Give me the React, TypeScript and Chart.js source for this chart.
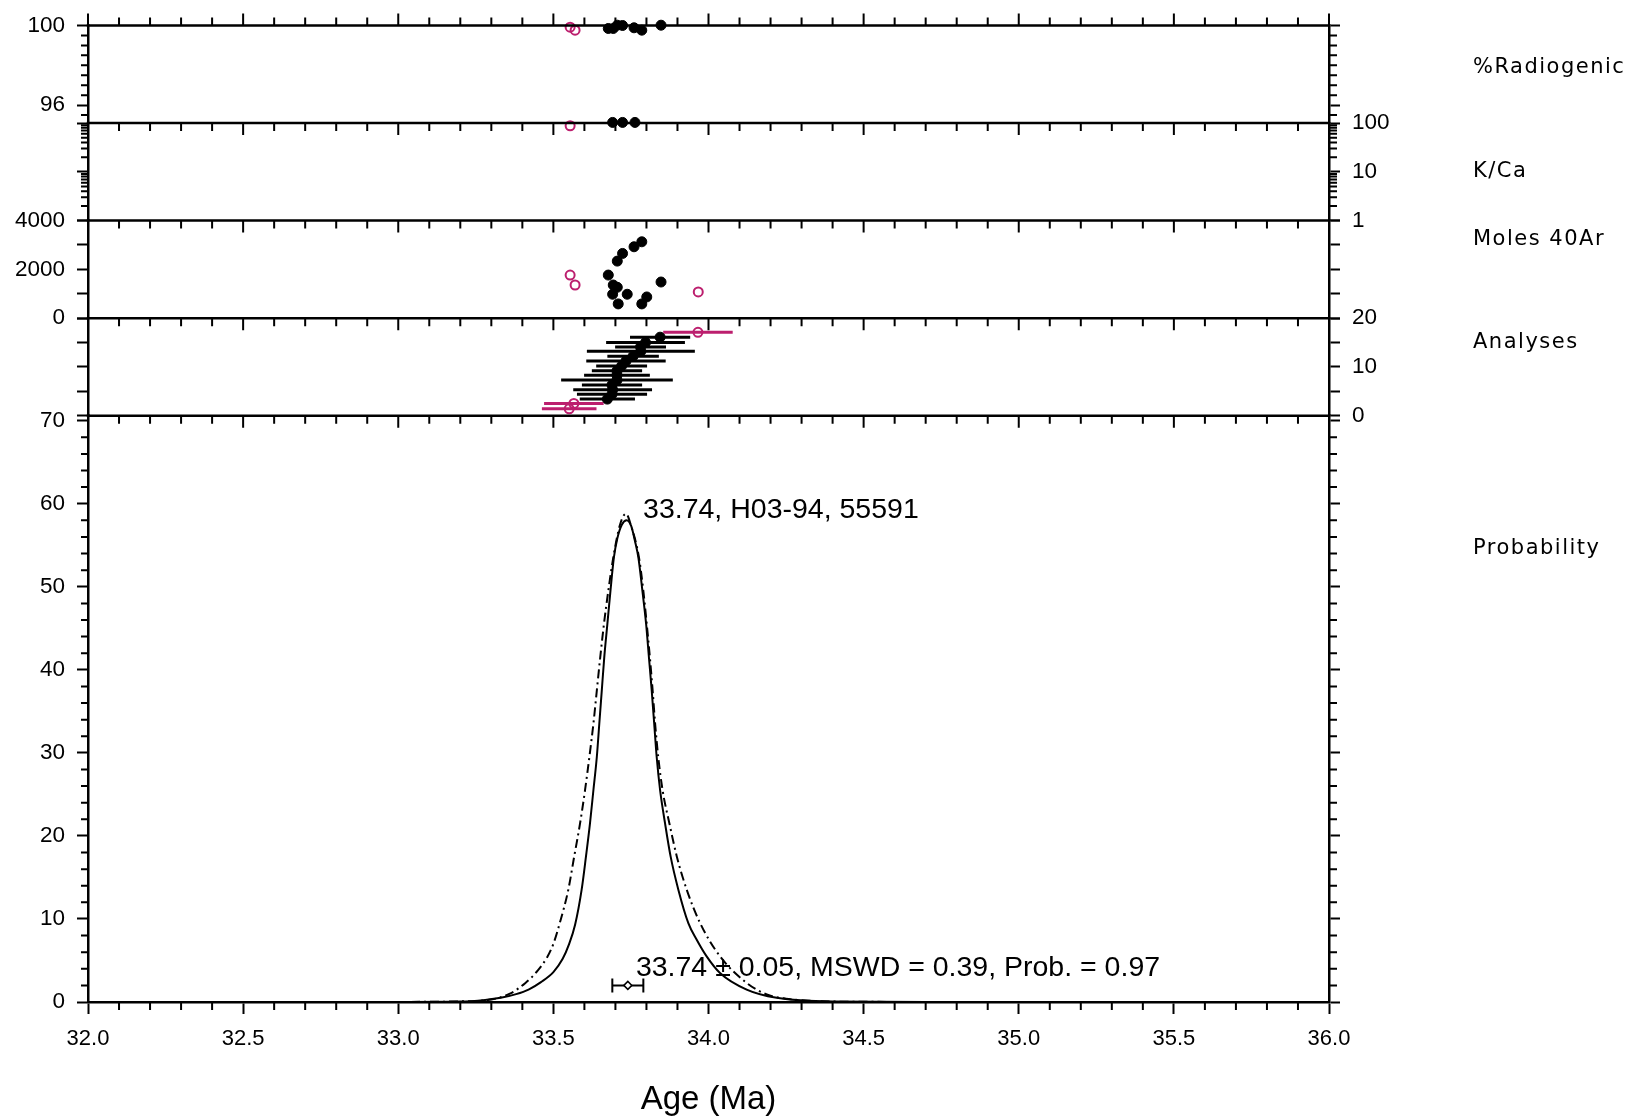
import React, { useEffect, useRef } from 'react';
import { Chart, registerables } from 'chart.js';

Chart.register(...registerables);

// ---------------- Data ----------------
const X_MIN = 32.0;
const X_MAX = 36.0;
const X_TICK_LABELS = ['32.0', '32.5', '33.0', '33.5', '34.0', '34.5', '35.0', '35.5', '36.0'];
const X_MINOR_STEP = 0.1;

// %Radiogenic
const RAD_AGES = [33.677, 33.693, 33.706, 33.723, 33.760, 33.785, 33.847];
const RAD_VALUES = [99.85, 99.85, 100.015, 100.0, 99.885, 99.765, 100.015];
const RAD_REJ_AGES = [33.554, 33.570];
const RAD_REJ_VALUES = [99.915, 99.765];

// K/Ca
const KCA_AGES = [33.691, 33.723, 33.763];
const KCA_VALUES = [103, 103, 103];
const KCA_REJ_AGES = [33.554];
const KCA_REJ_VALUES = [88];

// Moles 40Ar
const MOL_AGES = [33.785, 33.760, 33.723, 33.706, 33.677, 33.693, 33.706, 33.691, 33.738, 33.709, 33.801, 33.785, 33.847];
const MOL_VALUES = [3131, 2927, 2653, 2339, 1767, 1359, 1265, 980, 980, 584, 869, 584, 1482];
const MOL_REJ_AGES = [33.554, 33.570, 33.967];
const MOL_REJ_VALUES = [1767, 1359, 1073];

// Analyses (ranked ages with 2-sigma errors)
const AN_AGES = [33.674, 33.689, 33.691, 33.689, 33.705, 33.705, 33.705, 33.720, 33.734, 33.757, 33.782, 33.781, 33.797, 33.844];
const AN_ERRS = [0.089, 0.113, 0.127, 0.097, 0.180, 0.106, 0.081, 0.082, 0.128, 0.083, 0.174, 0.082, 0.127, 0.097];
const AN_RANKS = [3.4, 4.4, 5.3, 6.3, 7.3, 8.3, 9.2, 10.2, 11.2, 12.2, 13.2, 14.1, 15.0, 16.1];
const AN_REJ_AGES = [33.551, 33.566, 33.966];
const AN_REJ_ERRS = [0.088, 0.096, 0.112];
const AN_REJ_RANKS = [1.4, 2.5, 17.1];

// Probability curves
const PROB_AGES = [32.0, 32.8, 33.0, 33.2, 33.28, 33.33, 33.38, 33.42, 33.46, 33.50, 33.53, 33.55, 33.57, 33.591, 33.605, 33.618, 33.629, 33.640, 33.648, 33.656, 33.664, 33.674, 33.684, 33.695, 33.706, 33.721, 33.736, 33.751, 33.763, 33.774, 33.787, 33.799, 33.808, 33.817, 33.825, 33.833, 33.844, 33.860, 33.878, 33.903, 33.935, 33.962, 33.994, 34.037, 34.123, 34.220, 34.400, 34.7, 35.0, 36.0];
const PROB_VALUES = [0, 0, 0.01, 0.05, 0.25, 0.5, 0.95, 1.5, 2.4, 3.6, 5.2, 6.9, 9.3, 13.5, 17.5, 21.5, 25.5, 29.5, 33.5, 37.5, 41.5, 45.5, 49.5, 53.5, 55.8, 57.5, 58.0, 57.3, 55.5, 53.5, 49.5, 45.5, 41.5, 37.5, 33.5, 29.5, 25.5, 21.5, 17.5, 13.5, 9.5, 7.5, 5.5, 3.5, 1.5, 0.5, 0.05, 0.01, 0, 0];
const PROB_ALL_AGES = [32.0, 32.8, 33.0, 33.2, 33.30, 33.36, 33.41, 33.45, 33.48, 33.50, 33.519, 33.548, 33.567, 33.586, 33.602, 33.616, 33.629, 33.640, 33.651, 33.663, 33.677, 33.693, 33.715, 33.734, 33.750, 33.776, 33.790, 33.801, 33.811, 33.820, 33.828, 33.838, 33.852, 33.874, 33.898, 33.930, 33.973, 34.037, 34.123, 34.188, 34.250, 34.350, 34.500, 35.0, 36.0];
const PROB_ALL_VALUES = [0, 0, 0.01, 0.08, 0.3, 1.0, 2.3, 3.8, 5.4, 7.0, 9.3, 13.5, 17.5, 21.5, 25.5, 29.5, 33.5, 37.5, 41.5, 45.5, 49.5, 53.5, 57.5, 58.8, 57.4, 53.5, 49.5, 45.5, 41.5, 37.5, 33.5, 29.5, 25.5, 21.5, 17.5, 13.5, 9.5, 5.5, 2.3, 0.9, 0.4, 0.12, 0.02, 0, 0];

// Weighted mean
const MEAN_AGE = 33.74;
const MEAN_ERR = 0.05;
const MEAN_Y = 2.0;

// Annotations (probability panel, data units)
const ANNOT_TEXTS = ['33.74, H03-94, 55591', '33.74 \u00B1 0.05, MSWD = 0.39, Prob. = 0.97'];
const ANNOT_X = [33.789, 33.766];
const ANNOT_Y = [58.25, 3.12];

// Panel labels
const PANEL_LABELS = ['%Radiogenic', 'K/Ca', 'Moles 40Ar', 'Analyses', 'Probability'];
const PANEL_LABEL_AXES = ['yRad', 'yKca', 'yMol', 'yAn', 'yProb'];
const PANEL_LABEL_VALUES = [97.63, 7.8, 2990, 13.9, 54.0];

// Axis ticks
const RAD_TICKS = [96, 100];
const KCA_TICKS = [1, 10, 100];
const MOL_TICKS = [0, 1000, 2000, 3000, 4000];
const MOL_LABELS = [0, 2000, 4000];
const AN_TICKS = [0, 5, 10, 15, 20];
const AN_LABELS = [0, 10, 20];
const PROB_TICKS = [0, 10, 20, 30, 40, 50, 60, 70];

const RAD_MINOR = [95.5, 96.5, 97, 97.5, 98, 98.5, 99, 99.5];
const KCA_MINOR = [2, 3, 4, 5, 6, 7, 8, 9, 20, 30, 40, 50, 60, 70, 80, 90];
const PROB_MINOR = [2, 4, 6, 8, 12, 14, 16, 18, 22, 24, 26, 28, 32, 34, 36, 38, 42, 44, 46, 48, 52, 54, 56, 58, 62, 64, 66, 68];

// ---------------- Styling ----------------
const FONT = "'Liberation Sans', Arial, Helvetica, sans-serif";
const LABEL_FONT = "'DejaVu Sans', Verdana, sans-serif";
const MAGENTA = '#BC1F6E';
const PANEL_AXES = ['yRad', 'yKca', 'yMol', 'yAn', 'yProb'];

const pts = (xs: number[], ys: number[]) => xs.map((x, i) => ({ x, y: ys[i] }));

function panelAxis(position: string, type: string, min: number, max: number, tickVals: number[], labelVals: number[], weight: number, stackWeight: number) {
  return {
    type,
    position,
    min,
    max,
    weight,
    stack: position === 'left' ? 'L' : 'R',
    stackWeight,
    afterFit: (s: any) => { s.width = position === 'left' ? 88 : 305; },
    afterBuildTicks: (s: any) => { s.ticks = tickVals.map((v) => ({ value: v })); },
    ticks: {
      font: { family: FONT, size: 22.5 },
      color: '#000',
      padding: 12,
      autoSkip: false,
      callback: (v: any) => (labelVals.includes(Number(v)) ? String(Number(v)) : ''),
    },
    grid: { drawOnChartArea: false, drawTicks: true, tickLength: 11, tickWidth: 2, tickColor: '#000' },
    border: { display: true, color: '#000', width: 2.5 },
  };
}

const errorBarPlugin = {
  id: 'errorBars',
  beforeDatasetsDraw(chart: any) {
    const { ctx, scales } = chart;
    const xs = scales.x;
    chart.data.datasets.forEach((ds: any, di: number) => {
      if (!ds.xErr) return;
      const meta = chart.getDatasetMeta(di);
      ctx.save();
      ctx.strokeStyle = ds.errColor;
      ctx.lineWidth = ds.errWidth;
      ctx.beginPath();
      ds.data.forEach((d: any, i: number) => {
        const el = meta.data[i];
        if (!el) return;
        const y = el.y;
        const x1 = xs.getPixelForValue(d.x - ds.xErr[i]);
        const x2 = xs.getPixelForValue(d.x + ds.xErr[i]);
        ctx.moveTo(x1, y);
        ctx.lineTo(x2, y);
        if (ds.errCap) {
          ctx.moveTo(x1, y - ds.errCap);
          ctx.lineTo(x1, y + ds.errCap);
          ctx.moveTo(x2, y - ds.errCap);
          ctx.lineTo(x2, y + ds.errCap);
        }
      });
      ctx.stroke();
      ctx.restore();
    });
  },
};

const frameTickPlugin = {
  id: 'frameTicks',
  afterDraw(chart: any) {
    const { ctx, chartArea: a, scales } = chart;
    const xs = scales.x;
    const tops = PANEL_AXES.map((id) => scales[id].top);
    ctx.save();
    ctx.strokeStyle = '#000';
    ctx.lineWidth = 2.5;
    ctx.beginPath();
    tops.forEach((y: number) => {
      ctx.moveTo(a.left - 1.25, y);
      ctx.lineTo(a.right + 1.25, y);
    });
    ctx.stroke();

    ctx.lineWidth = 2;
    ctx.beginPath();
    const n = Math.round((X_MAX - X_MIN) / X_MINOR_STEP);
    for (let i = 0; i <= n; i++) {
      const px = xs.getPixelForValue(X_MIN + i * X_MINOR_STEP);
      const major = i % 5 === 0;
      const len = major ? 12 : 8;
      tops.forEach((y: number, k: number) => {
        ctx.moveTo(px, y);
        ctx.lineTo(px, k === 0 ? y - len : y + len);
      });
      if (!major) {
        ctx.moveTo(px, a.bottom);
        ctx.lineTo(px, a.bottom + len);
      }
    }
    const minor: [string, number[]][] = [['yRad', RAD_MINOR], ['yKca', KCA_MINOR], ['yProb', PROB_MINOR]];
    minor.forEach(([id, vals]) => {
      const s = scales[id];
      vals.forEach((v) => {
        const py = s.getPixelForValue(v);
        ctx.moveTo(a.left, py);
        ctx.lineTo(a.left - 7, py);
        ctx.moveTo(a.right, py);
        ctx.lineTo(a.right + 8, py);
      });
    });
    ctx.stroke();
    ctx.restore();
  },
};

const textPlugin = {
  id: 'texts',
  afterDatasetsDraw(chart: any) {
    const { ctx, chartArea: a, scales } = chart;
    ctx.save();
    ctx.fillStyle = '#000';
    ctx.textAlign = 'left';
    ctx.textBaseline = 'alphabetic';
    ctx.font = `28.5px ${FONT}`;
    ANNOT_TEXTS.forEach((t, i) => {
      ctx.fillText(t, scales.x.getPixelForValue(ANNOT_X[i]), scales.yProb.getPixelForValue(ANNOT_Y[i]));
    });
    ctx.font = `21px ${LABEL_FONT}`;
    try { (ctx as any).letterSpacing = '1.5px'; } catch (e) { /* ignore */ }
    PANEL_LABELS.forEach((t, i) => {
      ctx.fillText(t, a.right + 144, scales[PANEL_LABEL_AXES[i]].getPixelForValue(PANEL_LABEL_VALUES[i]));
    });
    try { (ctx as any).letterSpacing = '0px'; } catch (e) { /* ignore */ }
    ctx.restore();
  },
};

const filled = (color: string) => ({
  pointRadius: 5,
  pointBorderWidth: 1,
  backgroundColor: color,
  borderColor: color,
  clip: false,
});
const hollow = (color: string) => ({
  pointRadius: 4.5,
  pointBorderWidth: 2,
  backgroundColor: 'rgba(255,255,255,0)',
  borderColor: color,
  clip: false,
});

export default function App() {
  const ref = useRef<HTMLCanvasElement>(null);

  useEffect(() => {
    document.body.style.margin = '0';
    const canvas = ref.current;
    if (!canvas) return;

    const xTickValues = X_TICK_LABELS.map((s) => parseFloat(s));

    const chart = new Chart(canvas, {
      type: 'scatter',
      data: {
        datasets: [
          { label: 'mean', data: [{ x: MEAN_AGE, y: MEAN_Y }], yAxisID: 'yProb', pointStyle: 'rectRot', pointRadius: 4, pointBorderWidth: 1.5, backgroundColor: '#fff', borderColor: '#000', clip: false, xErr: [MEAN_ERR], errColor: '#000', errWidth: 2, errCap: 7 } as any,
          { label: 'rad', data: pts(RAD_AGES, RAD_VALUES), yAxisID: 'yRad', ...filled('#000') },
          { label: 'radRej', data: pts(RAD_REJ_AGES, RAD_REJ_VALUES), yAxisID: 'yRad', ...hollow(MAGENTA) },
          { label: 'kca', data: pts(KCA_AGES, KCA_VALUES), yAxisID: 'yKca', ...filled('#000') },
          { label: 'kcaRej', data: pts(KCA_REJ_AGES, KCA_REJ_VALUES), yAxisID: 'yKca', ...hollow(MAGENTA) },
          { label: 'mol', data: pts(MOL_AGES, MOL_VALUES), yAxisID: 'yMol', ...filled('#000') },
          { label: 'molRej', data: pts(MOL_REJ_AGES, MOL_REJ_VALUES), yAxisID: 'yMol', ...hollow(MAGENTA) },
          { label: 'an', data: pts(AN_AGES, AN_RANKS), yAxisID: 'yAn', ...filled('#000'), xErr: AN_ERRS, errColor: '#000', errWidth: 3 } as any,
          { label: 'anRej', data: pts(AN_REJ_AGES, AN_REJ_RANKS), yAxisID: 'yAn', ...hollow(MAGENTA), xErr: AN_REJ_ERRS, errColor: MAGENTA, errWidth: 3 } as any,
          { label: 'prob', data: pts(PROB_AGES, PROB_VALUES), yAxisID: 'yProb', showLine: true, borderColor: '#000', borderWidth: 2, pointRadius: 0, cubicInterpolationMode: 'monotone', fill: false } as any,
          { label: 'probAll', data: pts(PROB_ALL_AGES, PROB_ALL_VALUES), yAxisID: 'yProb', showLine: true, borderColor: '#000', borderWidth: 2, borderDash: [9, 4, 2, 4], pointRadius: 0, cubicInterpolationMode: 'monotone', fill: false } as any,
        ],
      },
      options: {
        responsive: false,
        animation: false,
        events: [],
        devicePixelRatio: 1,
        layout: { padding: { top: 21, left: 0, right: 0, bottom: 0 } },
        plugins: { legend: { display: false }, tooltip: { enabled: false } },
        scales: {
          x: {
            type: 'linear',
            position: 'bottom',
            min: X_MIN,
            max: X_MAX,
            afterFit: (s: any) => { s.height = 118; },
            afterBuildTicks: (s: any) => { s.ticks = xTickValues.map((v) => ({ value: v })); },
            ticks: {
              font: { family: FONT, size: 22 },
              color: '#000',
              padding: 12,
              autoSkip: false,
              maxRotation: 0,
              callback: (v: any) => X_TICK_LABELS[xTickValues.indexOf(Number(v))] ?? '',
            },
            grid: { drawOnChartArea: false, drawTicks: true, tickLength: 12, tickWidth: 2, tickColor: '#000' },
            border: { display: true, color: '#000', width: 2.5 },
            title: { display: true, text: 'Age (Ma)', color: '#000', font: { family: FONT, size: 33 }, padding: { top: 0, bottom: 0 } },
          },
          yRad: panelAxis('left', 'linear', 95.1, 100, RAD_TICKS, RAD_TICKS, 5, 98),
          yKca: panelAxis('left', 'logarithmic', 1, 100, KCA_TICKS, [], 4, 98),
          yMol: panelAxis('left', 'linear', 0, 4000, MOL_TICKS, MOL_LABELS, 3, 98),
          yAn: panelAxis('left', 'linear', 0, 20, AN_TICKS, [], 2, 98),
          yProb: panelAxis('left', 'linear', 0, 70.6, PROB_TICKS, PROB_TICKS, 1, 589),
          yRadR: panelAxis('right', 'linear', 95.1, 100, RAD_TICKS, [], 1, 98),
          yKcaR: panelAxis('right', 'logarithmic', 1, 100, KCA_TICKS, KCA_TICKS, 2, 98),
          yMolR: panelAxis('right', 'linear', 0, 4000, MOL_TICKS, [], 3, 98),
          yAnR: panelAxis('right', 'linear', 0, 20, AN_TICKS, AN_LABELS, 4, 98),
          yProbR: panelAxis('right', 'linear', 0, 70.6, PROB_TICKS, [], 5, 589),
        } as any,
      },
      plugins: [errorBarPlugin, frameTickPlugin, textPlugin],
    } as any);

    return () => chart.destroy();
  }, []);

  return (
    <div style={{ width: 1634, height: 1120, background: '#fff' }}>
      <canvas ref={ref} width={1634} height={1120} style={{ display: 'block', width: 1634, height: 1120 }} />
    </div>
  );
}
